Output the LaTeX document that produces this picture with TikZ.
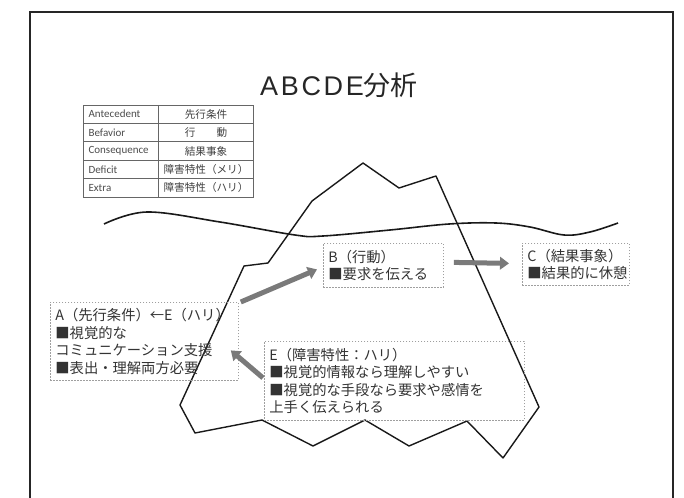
\documentclass[tikz,border=0pt]{standalone}
\usepackage{fontspec}
\setmainfont{Liberation Sans}
\newfontfamily\jpfont{Noto Sans CJK JP}
\newfontfamily\tabfont{Carlito}
\usetikzlibrary{arrows.meta}

\tikzset{
  note/.style={draw=gray!75, dash pattern=on 1.6pt off 1.4pt, line width=0.8pt,
    text=black!80, font=\jpfont\fontsize{14.3}{17.5}\selectfont,
    align=left, anchor=north west, inner xsep=5pt, inner ysep=3pt},
  flow/.style={draw=black!52, line width=5pt, -{Triangle[length=9pt,width=12.5pt]}},
  cell/.style={font=\tabfont\fontsize{11}{12}\selectfont, text=black!70, anchor=west},
  kana/.style={font=\jpfont\fontsize{10.6}{12}\selectfont, text=black!75},
}

\begin{document}
\begin{tikzpicture}[x=1pt,y=-1pt]
  \useasboundingbox (0,0) rectangle (684,497);

  % frame
  \draw[line width=1.3pt, black!85] (30,510) -- (30,12) -- (673,12) -- (673,510);

  % title
  \node[text=black!85] (title) at (339,85)
    {\fontsize{27}{29}\selectfont{\addfontfeature{LetterSpace=10}ABCDE}{\jpfont 分析}};

  % table
  \draw[line width=0.6pt, black!60] (83,105) rectangle (253,197);
  \draw[line width=0.6pt, black!60] (158,105) -- (158,197);
  \foreach \y in {123.4,141.8,160.2,178.6}
    \draw[line width=0.6pt, black!60] (83,\y) -- (253,\y);
  \foreach \en/\jp [count=\i] in {Antecedent/先行条件, Befavior/行　　動,
      Consequence/結果事象, Deficit/障害特性（メリ）, Extra/障害特性（ハリ）}{
    \node[cell] (en\i) at (85,{105+18.4*\i-9.2}) {\en};
    \node[kana] (jp\i) at (206,{105+18.4*\i-9.2}) {\jp};
  }

  % sea level
  \draw[line width=1.6pt, black!90] plot[smooth, tension=0.6] coordinates
    {(104,224) (147,212) (220,222) (295,235) (323,236) (390,230) (449,224)
     (496,223) (530,227) (564,235) (590,232) (618,223)};

  % iceberg
  \draw[line width=1.4pt, black!90, line join=round]
    (312,201) -- (363,163) -- (399,188) -- (436,176) -- (539,407)
    -- (503,458) -- (467,421) -- (409,446) -- (365,420) -- (313,446)
    -- (262,420) -- (195,433) -- (180,405) -- (244,266) -- (268,263) -- cycle;

  % boxes
  \node[note, text width=178pt, minimum height=78pt] (A) at (50,302)
    {A（先行条件）←E（ハリ）\\■視覚的な\\コミュニケーション支援\\■表出・理解両方必要};
  \node[note, text width=110pt, minimum height=44pt] (B) at (323,243)
    {B（行動）\\■要求を伝える};
  \node[note, text width=97pt, minimum height=42pt] (C) at (522,243)
    {C（結果事象）\\■結果的に休憩};
  \node[note, text width=250pt, minimum height=79pt] (E) at (264,341)
    {E（障害特性：ハリ）\\■視覚的情報なら理解しやすい\\■視覚的な手段なら要求や感情を\\上手く伝えられる};

  % arrows
  \draw[flow] ([xshift=2pt]A.north east) -- ([xshift=-6pt,yshift=-4pt]B.west);
  \draw[flow] ([xshift=10pt,yshift=3pt]B.east) -- ([xshift=-13pt,yshift=1pt]C.west);
  \draw[flow] ([xshift=-1pt,yshift=3pt]E.west) -- ([xshift=-8pt,yshift=-9pt]A.east);
\end{tikzpicture}
\end{document}
